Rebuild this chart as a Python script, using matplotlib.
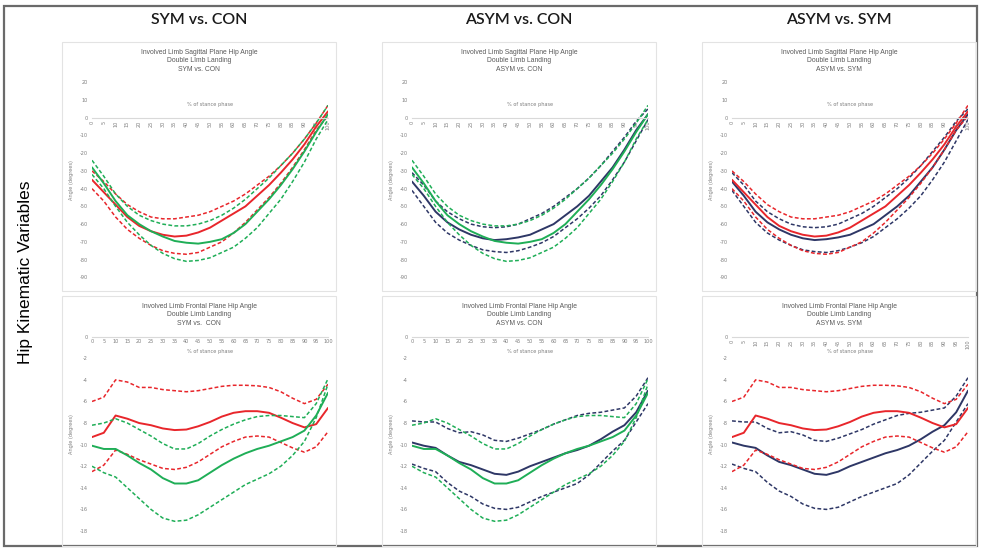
import matplotlib
matplotlib.use('Agg')
import matplotlib.pyplot as plt
from matplotlib.patches import Rectangle

plt.rcParams['axes.unicode_minus'] = False

# % of stance phase
pct = list(range(0, 101, 5))

# sagittal plane hip angle (degrees): mean, +SD, -SD
sym_sag = [-35, -42, -49, -56, -61, -64, -66, -67, -66.5, -64.7, -62, -58, -54, -50, -44, -38, -31, -23.5, -15, -5, 3.6]
sym_sag_hi = [-30, -36, -43, -49, -53, -56, -57, -57, -56, -55, -53, -50, -47, -43, -38, -33, -27, -20, -12, -3, 7]
sym_sag_lo = [-40, -47, -56, -63, -68, -72, -75, -76.5, -77, -76, -73, -70, -65, -59, -52, -45, -37, -28, -18, -7, 1]

con_sag = [-28, -37, -47, -55, -60, -64, -67, -69.5, -70.5, -71, -70, -68.5, -65, -60, -53, -46, -38, -29, -19, -8, 2]
con_sag_hi = [-24, -33, -43, -50, -55, -58, -60, -61, -61, -60, -58, -55, -51, -46, -40, -34, -27, -20, -12, -3, 7]
con_sag_lo = [-32, -40, -50, -59, -66, -72, -76.5, -79.5, -81, -80.5, -79, -76, -73, -68, -62, -54, -46, -36, -25, -12, -1]

asym_sag = [-36, -44, -53, -59, -63, -66, -68, -69, -68.5, -67.5, -66, -63, -60, -55, -50, -44, -36, -28, -18, -7, 2]
asym_sag_hi = [-31, -38, -47, -53, -57, -60, -61.5, -62, -61.5, -60, -57, -54, -50, -45, -40, -34, -27, -19, -11, -2, 5]
asym_sag_lo = [-41, -50, -59, -65, -69, -72, -74.5, -75.5, -76, -75, -73, -70.5, -67, -62, -57, -51, -44, -35, -25, -13, -1]

# frontal plane hip angle (degrees): mean, +SD, -SD
sym_fro = [-9.3, -8.9, -7.3, -7.6, -8.0, -8.2, -8.5, -8.65, -8.6, -8.3, -7.9, -7.4, -7.05, -6.9, -6.9, -7.05, -7.5, -8.0, -8.4, -8.1, -6.6]
sym_fro_hi = [-6.0, -5.6, -4.0, -4.2, -4.7, -4.7, -4.9, -5.0, -5.1, -5.0, -4.8, -4.6, -4.5, -4.5, -4.55, -4.7, -5.1, -5.7, -6.2, -5.8, -4.4]
sym_fro_lo = [-12.5, -11.9, -10.5, -10.9, -11.4, -11.8, -12.2, -12.3, -12.1, -11.6, -10.9, -10.2, -9.7, -9.3, -9.2, -9.3, -9.8, -10.3, -10.7, -10.2, -8.8]

con_fro = [-10.1, -10.4, -10.4, -11.0, -11.7, -12.3, -13.1, -13.6, -13.6, -13.3, -12.6, -11.9, -11.3, -10.8, -10.4, -10.1, -9.7, -9.3, -8.7, -7.3, -5.2]
con_fro_hi = [-8.2, -8.0, -7.6, -8.0, -8.6, -9.2, -9.9, -10.4, -10.4, -9.9, -9.2, -8.6, -8.1, -7.7, -7.4, -7.3, -7.3, -7.4, -7.5, -6.2, -3.9]
con_fro_lo = [-12.0, -12.6, -13.0, -14.0, -15.0, -16.0, -16.8, -17.1, -17.0, -16.5, -15.8, -15.1, -14.4, -13.7, -13.2, -12.7, -12.0, -11.0, -9.7, -7.5, -4.4]

asym_fro = [-9.8, -10.1, -10.3, -11.0, -11.6, -11.9, -12.3, -12.7, -12.8, -12.5, -12.0, -11.6, -11.2, -10.8, -10.5, -10.1, -9.5, -8.8, -8.2, -7.0, -5.0]
asym_fro_hi = [-7.8, -7.9, -7.9, -8.5, -8.9, -8.8, -9.1, -9.6, -9.7, -9.4, -9.0, -8.6, -8.1, -7.7, -7.3, -7.1, -7.0, -6.8, -6.6, -5.5, -3.8]
asym_fro_lo = [-11.8, -12.2, -12.5, -13.5, -14.3, -14.8, -15.5, -15.9, -16.0, -15.8, -15.3, -14.8, -14.4, -14.0, -13.6, -12.8, -11.7, -10.6, -9.6, -7.9, -6.2]

groups = {
    'SYM': ('#e8262b', (sym_sag, sym_sag_hi, sym_sag_lo), (sym_fro, sym_fro_hi, sym_fro_lo)),
    'CON': ('#1fae57', (con_sag, con_sag_hi, con_sag_lo), (con_fro, con_fro_hi, con_fro_lo)),
    'ASYM': ('#2e3766', (asym_sag, asym_sag_hi, asym_sag_lo), (asym_fro, asym_fro_hi, asym_fro_lo)),
}

comparisons = [('SYM', 'CON'), ('ASYM', 'CON'), ('ASYM', 'SYM')]
col_titles = ['SYM vs. CON', 'ASYM vs. CON', 'ASYM vs. SYM']
sag_sub = ['Double LImb Landing', 'Double Limb Landing', 'Double Limb Landing']
fro_titles = ['SYM vs.  CON', 'ASYM vs. CON', 'ASYM vs. SYM']

W, H = 982, 551
fig = plt.figure(figsize=(W / 100, H / 100), dpi=100)

def fbox(x0, y0, x1, y1):
    return [x0 / W, 1 - y1 / H, (x1 - x0) / W, (y1 - y0) / H]

def frect(x0, y0, x1, y1, **kw):
    r = Rectangle((x0 / W, 1 - y1 / H), (x1 - x0) / W, (y1 - y0) / H,
                  transform=fig.transFigure, fill=False, **kw)
    fig.add_artist(r)

# outer frame
frect(4, 6, 977, 546, ec='#6a6a6a', lw=1.6)

fig.text(26 / W, 1 - 272 / H, 'Hip Kinematic Variables', rotation=90,
         ha='center', va='center', fontsize=12.5, family='Liberation Sans')

txt_gray = '#7f7f7f'
grid_gray = '#d9d9d9'

def make_panel(off, top, bottom, ylo, yhi, ystep, y_axis_top, y_axis_bot,
               lines, rot, g1, g2, plane):
    # chart area border
    frect(62 + off, top, 336 + off, bottom, ec='#e3e3e3', lw=0.8)
    cx = 199 + off
    for i, t in enumerate(lines):
        fig.text(cx / W, 1 - (top + 10 + i * 8.8) / H, t, ha='center', va='center',
                 fontsize=4.9, color='#595959', family='Liberation Sans')
    ax = fig.add_axes(fbox(92 + off, y_axis_top, 328 + off, y_axis_bot))
    ax.set_xlim(0, 100)
    ax.set_ylim(ylo, yhi)
    for s in ['left', 'right', 'top']:
        ax.spines[s].set_visible(False)
    ax.spines['bottom'].set_position(('data', 0))
    ax.spines['bottom'].set_color(grid_gray)
    ax.spines['bottom'].set_linewidth(0.8)
    ax.set_xticks(pct)
    ax.set_xticklabels([str(p) for p in pct], rotation=rot)
    ax.set_yticks(list(range(int(ylo), int(yhi) + 1, ystep)))
    ax.tick_params(axis='both', length=0, labelsize=3.6, labelcolor=txt_gray)
    ax.tick_params(axis='y', pad=3)
    ax.tick_params(axis='x', pad=2)
    ax.set_ylabel('Angle (degrees)', fontsize=3.6, color=txt_gray)
    ax.yaxis.set_label_coords(-0.078, 0.5)
    ax.patch.set_alpha(0)
    if plane == 'sag':
        ax.text(50, 7.5, '% of stance phase', ha='center', va='center',
                fontsize=3.6, color=txt_gray)
    else:
        ax.text(50, -1.4, '% of stance phase', ha='center', va='center',
                fontsize=3.6, color=txt_gray)
    for g in (g1, g2):
        col, sag, fro = groups[g]
        m, hi, lo = sag if plane == 'sag' else fro
        ax.plot(pct, m, color=col, lw=1.4, solid_capstyle='round')
        ax.plot(pct, hi, color=col, lw=1.1, ls=(0, (2.5, 1.5)))
        ax.plot(pct, lo, color=col, lw=1.1, ls=(0, (2.5, 1.5)))
    return ax

for c in range(3):
    off = 320 * c
    g1, g2 = comparisons[c]
    fig.text((199 + off) / W, 1 - 20 / H, col_titles[c], ha='center', va='center',
             fontsize=11.5, family='Lato', weight='semibold', color='#1a1a1a')
    make_panel(off, 42, 291, -90, 20, 10, 82.3, 277.3,
               ['Involved Limb Sagittal Plane Hip Angle', sag_sub[c], col_titles[c]],
               90, g1, g2, 'sag')
    make_panel(off, 296, 546, -18, 0, 2, 336.7, 531,
               ['Involved Limb Frontal Plane Hip Angle', 'Double Limb Landing', fro_titles[c]],
               90 if c == 2 else 0, g1, g2, 'fro')

fig.savefig('out.png', dpi=100)
